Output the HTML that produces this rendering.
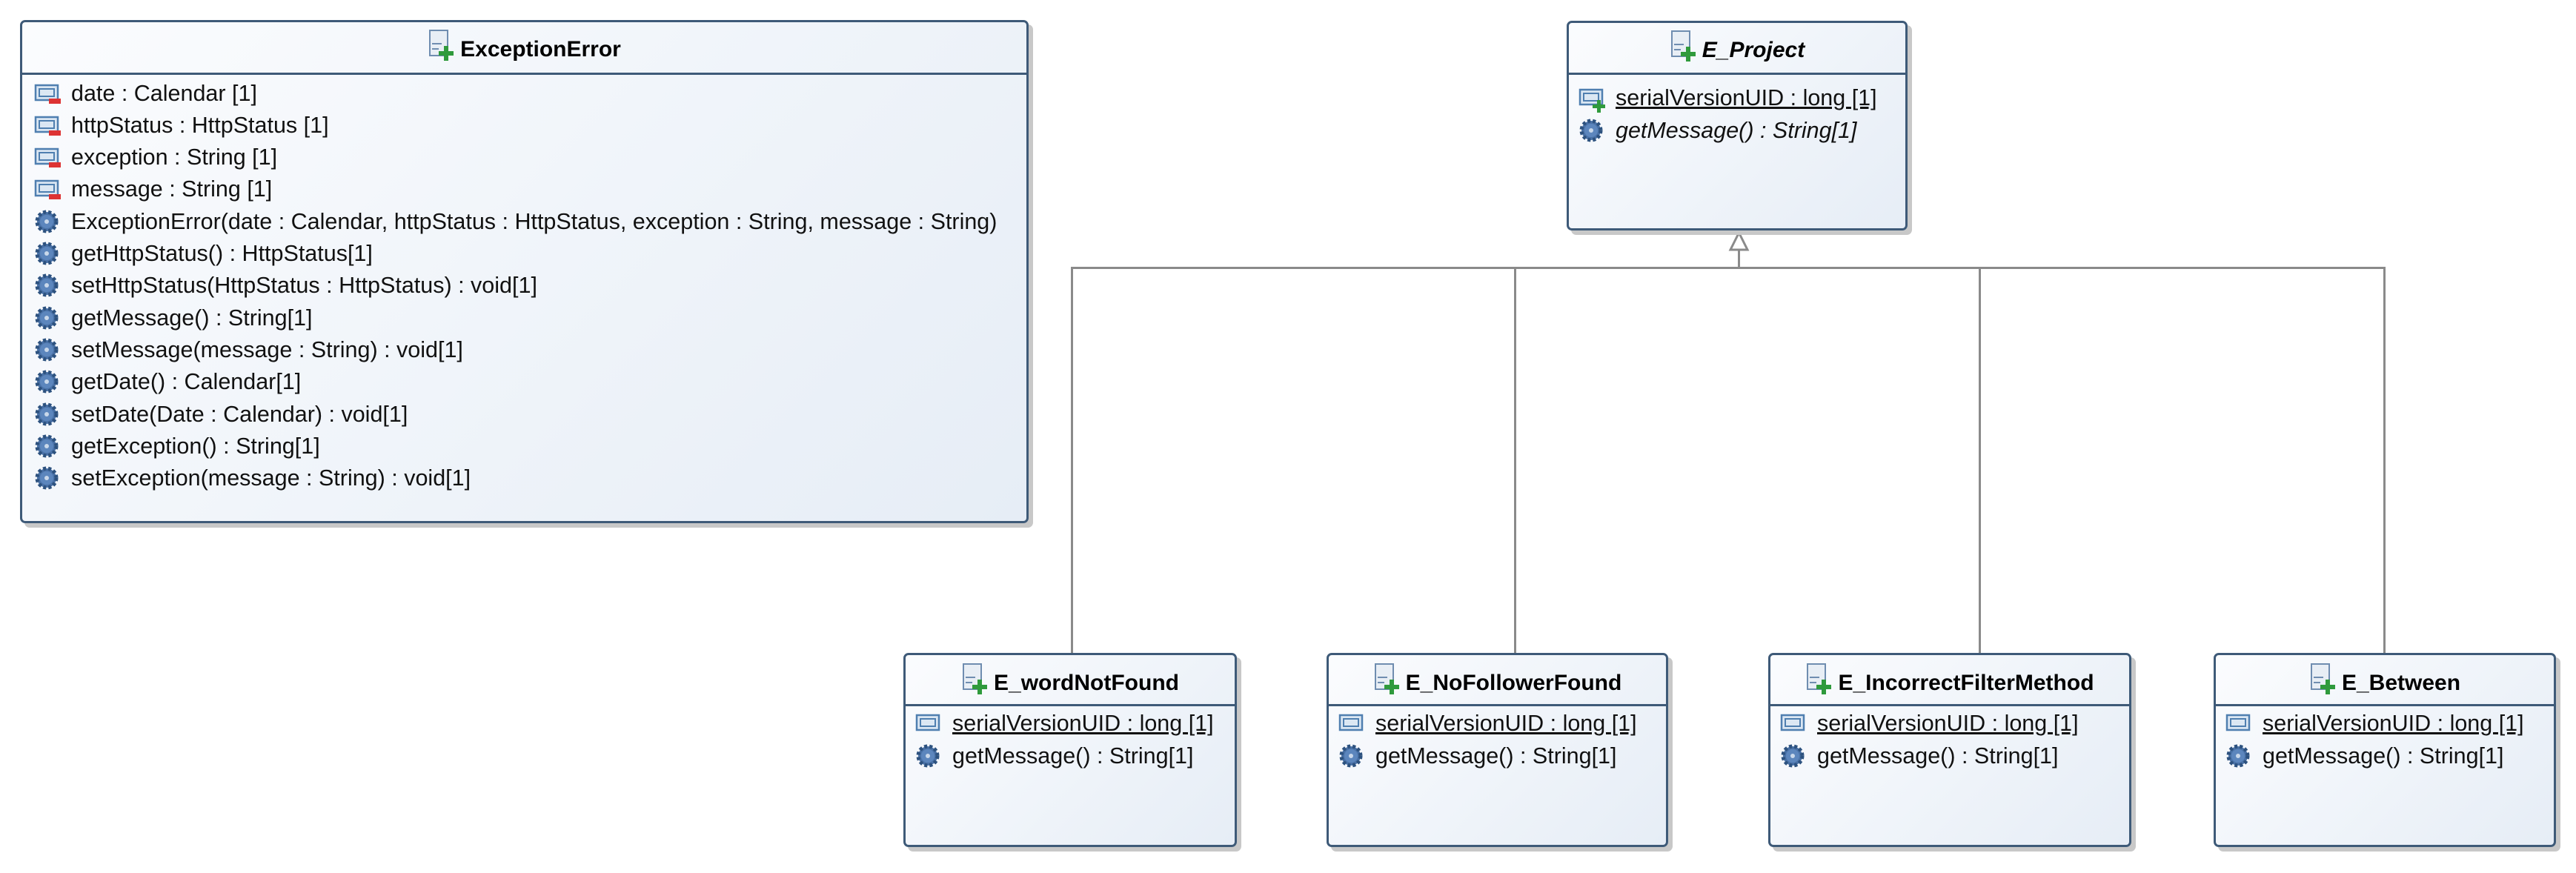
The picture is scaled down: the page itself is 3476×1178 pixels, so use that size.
<!DOCTYPE html>
<html><head><meta charset="utf-8"><style>
html,body{margin:0;padding:0;background:#fff;width:3476px;height:1178px;overflow:hidden;position:relative;font-family:"Liberation Sans",sans-serif;}
.box{position:absolute;border:3px solid #3e5a78;border-radius:7px;background:linear-gradient(135deg,#fbfcfe 0%,#eef3f9 60%,#e6edf6 100%);box-shadow:6px 6px 0 #c8c8c8;box-sizing:border-box;}
.sep{position:absolute;left:0;right:0;height:3px;background:#3e5a78;}
.title{position:absolute;left:0;right:0;text-align:center;font-weight:bold;font-size:30px;color:#000;white-space:nowrap;}
.title svg{vertical-align:-8px;margin-right:6px;}
.row{position:absolute;font-size:30.5px;color:#111;white-space:nowrap;line-height:34px;}
.row svg{position:absolute;left:-50px;top:0;}
.u{text-decoration:underline;}
.i{font-style:italic;}
.line{position:absolute;background:#8a8a8a;}
</style></head><body>
<svg width="0" height="0" style="position:absolute">
<defs>
<g id="cls"><rect x="3" y="1" width="24" height="34" fill="#e8eef5" stroke="#6f8db0" stroke-width="2"/><line x1="6" y1="19" x2="19" y2="19" stroke="#6f8db0" stroke-width="2"/><line x1="6" y1="26" x2="15" y2="26" stroke="#6f8db0" stroke-width="2"/><path d="M22 22h6v7h7v6h-7v7h-6v-7h-7v-6h7z" fill="#2f9a3c"/></g>
<g id="attrm"><rect x="2" y="6" width="30" height="20" fill="#dbe7f3" stroke="#4f7fb0" stroke-width="2.5"/><rect x="7" y="11" width="20" height="10" fill="none" stroke="#4f7fb0" stroke-width="2"/><rect x="20" y="24" width="16" height="7" fill="#d33"/></g>
<g id="attrp"><rect x="2" y="6" width="30" height="20" fill="#dbe7f3" stroke="#4f7fb0" stroke-width="2.5"/><rect x="7" y="11" width="20" height="10" fill="none" stroke="#4f7fb0" stroke-width="2"/><path d="M25 20h5v6h6v5h-6v6h-5v-6h-6v-5h6z" fill="#2f9a3c"/></g>
<g id="attr"><rect x="2" y="6" width="30" height="20" fill="#dbe7f3" stroke="#4f7fb0" stroke-width="2.5"/><rect x="7" y="11" width="20" height="10" fill="none" stroke="#4f7fb0" stroke-width="2"/></g>
<g id="gear"><circle cx="17" cy="17" r="13" fill="#4a72a8" stroke="#2d527f" stroke-width="5" stroke-dasharray="4 3"/><circle cx="17" cy="17" r="9" fill="#5c86bd"/><circle cx="17" cy="17" r="3" fill="#c9d8ea"/></g>
</defs></svg>

<!-- connectors -->
<div class="line" style="left:1445px;top:360px;width:1772px;height:3px"></div>
<div class="line" style="left:2345px;top:336px;width:3px;height:26px"></div>
<div class="line" style="left:1445px;top:360px;width:3px;height:522px"></div>
<div class="line" style="left:2043px;top:360px;width:3px;height:522px"></div>
<div class="line" style="left:2670px;top:360px;width:3px;height:522px"></div>
<div class="line" style="left:3216px;top:360px;width:3px;height:522px"></div>
<svg style="position:absolute;left:2330px;top:310px" width="34" height="30"><polygon points="16.5,4 5,27 28,27" fill="#fff" stroke="#8a8a8a" stroke-width="3"/></svg>

<!-- ExceptionError -->
<div class="box" style="left:27px;top:27px;width:1361px;height:679px">
<div class="title" style="top:10px"><svg width="38" height="44"><use href="#cls"/></svg>ExceptionError</div>
<div class="sep" style="top:68px"></div>
<div class="row" style="left:66px;top:79px"><svg width="38" height="38"><use href="#attrm"/></svg>date : Calendar [1]</div>
<div class="row" style="left:66px;top:122px"><svg width="38" height="38"><use href="#attrm"/></svg>httpStatus : HttpStatus [1]</div>
<div class="row" style="left:66px;top:165px"><svg width="38" height="38"><use href="#attrm"/></svg>exception : String [1]</div>
<div class="row" style="left:66px;top:208px"><svg width="38" height="38"><use href="#attrm"/></svg>message : String [1]</div>
<div class="row" style="left:66px;top:252px"><svg width="36" height="36"><use href="#gear"/></svg>ExceptionError(date : Calendar, httpStatus : HttpStatus, exception : String, message : String)</div>
<div class="row" style="left:66px;top:295px"><svg width="36" height="36"><use href="#gear"/></svg>getHttpStatus() : HttpStatus[1]</div>
<div class="row" style="left:66px;top:338px"><svg width="36" height="36"><use href="#gear"/></svg>setHttpStatus(HttpStatus : HttpStatus) : void[1]</div>
<div class="row" style="left:66px;top:382px"><svg width="36" height="36"><use href="#gear"/></svg>getMessage() : String[1]</div>
<div class="row" style="left:66px;top:425px"><svg width="36" height="36"><use href="#gear"/></svg>setMessage(message : String) : void[1]</div>
<div class="row" style="left:66px;top:468px"><svg width="36" height="36"><use href="#gear"/></svg>getDate() : Calendar[1]</div>
<div class="row" style="left:66px;top:512px"><svg width="36" height="36"><use href="#gear"/></svg>setDate(Date : Calendar) : void[1]</div>
<div class="row" style="left:66px;top:555px"><svg width="36" height="36"><use href="#gear"/></svg>getException() : String[1]</div>
<div class="row" style="left:66px;top:598px"><svg width="36" height="36"><use href="#gear"/></svg>setException(message : String) : void[1]</div>
</div>

<!-- E_Project -->
<div class="box" style="left:2114px;top:28px;width:460px;height:283px">
<div class="title i" style="top:10px"><svg width="38" height="44"><use href="#cls"/></svg>E_Project</div>
<div class="sep" style="top:67px"></div>
<div class="row" style="left:63px;top:84px"><svg width="38" height="40"><use href="#attrp"/></svg><span class="u">serialVersionUID : long [1]</span></div>
<div class="row i" style="left:63px;top:128px"><svg width="36" height="36"><use href="#gear"/></svg>getMessage() : String[1]</div>
</div>

<!-- subclasses -->
<div class="box" style="left:1219px;top:881px;width:450px;height:262px">
<div class="title" style="top:11px"><svg width="38" height="44"><use href="#cls"/></svg>E_wordNotFound</div>
<div class="sep" style="top:66px"></div>
<div class="row" style="left:63px;top:75px"><svg width="38" height="38"><use href="#attr"/></svg><span class="u">serialVersionUID : long [1]</span></div>
<div class="row" style="left:63px;top:119px"><svg width="36" height="36"><use href="#gear"/></svg>getMessage() : String[1]</div>
</div>
<div class="box" style="left:1790px;top:881px;width:461px;height:262px">
<div class="title" style="top:11px"><svg width="38" height="44"><use href="#cls"/></svg>E_NoFollowerFound</div>
<div class="sep" style="top:66px"></div>
<div class="row" style="left:63px;top:75px"><svg width="38" height="38"><use href="#attr"/></svg><span class="u">serialVersionUID : long [1]</span></div>
<div class="row" style="left:63px;top:119px"><svg width="36" height="36"><use href="#gear"/></svg>getMessage() : String[1]</div>
</div>
<div class="box" style="left:2386px;top:881px;width:490px;height:262px">
<div class="title" style="top:11px"><svg width="38" height="44"><use href="#cls"/></svg>E_IncorrectFilterMethod</div>
<div class="sep" style="top:66px"></div>
<div class="row" style="left:63px;top:75px"><svg width="38" height="38"><use href="#attr"/></svg><span class="u">serialVersionUID : long [1]</span></div>
<div class="row" style="left:63px;top:119px"><svg width="36" height="36"><use href="#gear"/></svg>getMessage() : String[1]</div>
</div>
<div class="box" style="left:2987px;top:881px;width:462px;height:262px">
<div class="title" style="top:11px"><svg width="38" height="44"><use href="#cls"/></svg>E_Between</div>
<div class="sep" style="top:66px"></div>
<div class="row" style="left:63px;top:75px"><svg width="38" height="38"><use href="#attr"/></svg><span class="u">serialVersionUID : long [1]</span></div>
<div class="row" style="left:63px;top:119px"><svg width="36" height="36"><use href="#gear"/></svg>getMessage() : String[1]</div>
</div>
</body></html>
